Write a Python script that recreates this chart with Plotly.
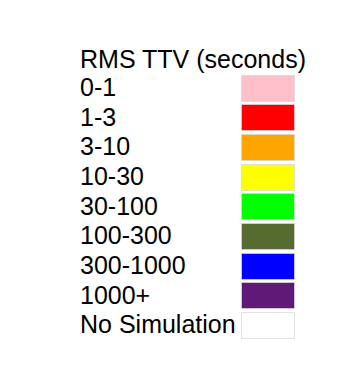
import plotly.graph_objects as go

title_text = "RMS TTV (seconds)"
categories = ["0-1", "1-3", "3-10", "10-30", "30-100", "100-300", "300-1000", "1000+", "No Simulation"]
colors = ["#FFC0CB", "#FF0000", "#FFA500", "#FFFF00", "#00FF00", "#556B2F", "#0000FF", "#5F1A78", "#FFFFFF"]

n = len(categories)
rows = list(range(n))

FONT = dict(family="Liberation Sans, Arial, Helvetica, sans-serif", size=25, color="#000000")

fig = go.Figure()

# swatches
fig.add_trace(go.Bar(
    y=rows,
    x=[53] * n,
    base=[234] * n,
    orientation="h",
    width=0.88,
    marker=dict(color=colors, line=dict(color="rgba(215,215,215,0.75)", width=1)),
    hoverinfo="skip",
    showlegend=False,
))

# labels
fig.add_trace(go.Scatter(
    y=[r + 0.04 for r in rows],
    x=[72] * n,
    mode="text",
    text=categories,
    textposition="middle right",
    textfont=FONT,
    hoverinfo="skip",
    showlegend=False,
))

# title row
fig.add_trace(go.Scatter(
    y=[-0.9],
    x=[72],
    mode="text",
    text=[title_text],
    textposition="middle right",
    textfont=FONT,
    hoverinfo="skip",
    showlegend=False,
))

fig.update_layout(
    width=359,
    height=380,
    margin=dict(l=0, r=0, t=0, b=0),
    paper_bgcolor="white",
    plot_bgcolor="white",
    xaxis=dict(range=[0, 359], visible=False, fixedrange=True),
    yaxis=dict(range=[10.09, -2.72], visible=False, fixedrange=True),
    bargap=0,
)

fig.write_html("out.html", config={"displayModeBar": False})
